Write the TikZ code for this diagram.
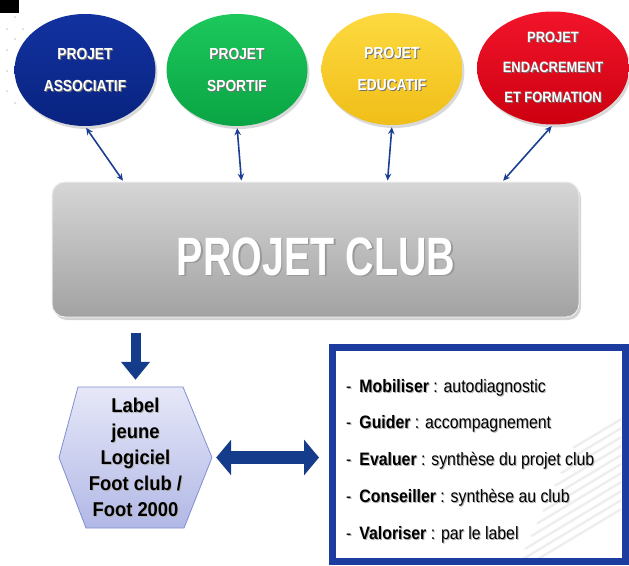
\documentclass[tikz,border=0pt]{standalone}
\usepackage{fontspec}
\setmainfont{Liberation Sans}
\newfontfamily\condA[FakeStretch=0.86]{Liberation Sans}
\newfontfamily\condB[FakeStretch=0.73]{Liberation Sans}
\newfontfamily\condC[FakeStretch=0.92]{Liberation Sans}
\newfontfamily\condD[FakeStretch=0.88]{Liberation Sans}
\usetikzlibrary{shapes.geometric,arrows.meta,shadows,calc}
\definecolor{pblueT}{HTML}{1232A0}
\definecolor{pblueB}{HTML}{08237F}
\definecolor{pgreenT}{HTML}{1CC85C}
\definecolor{pgreenB}{HTML}{0AA444}
\definecolor{pyellowT}{HTML}{FDDA40}
\definecolor{pyellowB}{HTML}{F0BE18}
\definecolor{predT}{HTML}{F2142A}
\definecolor{predB}{HTML}{CC0010}
\definecolor{linkblue}{HTML}{1B3F92}
\definecolor{navy}{HTML}{153C8A}
\definecolor{clubT}{HTML}{D6D6D6}
\definecolor{clubB}{HTML}{A2A2A2}
\definecolor{hexT}{HTML}{E6E8F8}
\definecolor{hexB}{HTML}{B2B8E6}
\definecolor{hexline}{HTML}{7F8FCF}
\definecolor{boxblue}{HTML}{1C3CA0}
\newcommand\shd[2][black!55]{\makebox[0pt][l]{\kern1pt\raisebox{-1pt}{\textcolor{#1}{#2}}}#2}
\newcommand\shdB[2][black!40]{\makebox[0pt][l]{\kern1.5pt\raisebox{-1.5pt}{\textcolor{#1}{#2}}}#2}
\begin{document}
\begin{tikzpicture}[x=1pt,y=-1pt,
  proj/.style={ellipse, minimum width=141pt, minimum height=112pt, inner sep=0pt,
    text=white, align=center,
    font=\condA\bfseries\fontsize{16}{32}\selectfont,
    drop shadow={opacity=0.3, shadow xshift=2pt, shadow yshift=-3pt}},
  link/.style={draw=linkblue, line width=1.6pt, shorten <=2pt, shorten >=1pt,
    {Stealth[length=7pt,width=6.5pt]}-{Stealth[length=7pt,width=6.5pt]}},
  dotg/.style={fill=gray!35},
]
\useasboundingbox (0,0) rectangle (629,565);
% corner decorations
\fill[black] (0,0) rectangle (19,13);
\foreach \p in {(15,17),(7,29),(23,29),(15,39),(7,50),(7,71),(7,91),(15,103)}
  \fill[dotg] \p circle (1pt);

% project ellipses
\node[proj, top color=pblueT, bottom color=pblueB] (pblue) at (85,70)
  {\shd{PROJET}\\\shd{ASSOCIATIF}};
\node[proj, top color=pgreenT, bottom color=pgreenB] (pgreen) at (237,70)
  {\shd{PROJET}\\\shd{SPORTIF}};
\node[proj, top color=pyellowT, bottom color=pyellowB] (pyellow) at (392,69)
  {\shd{PROJET}\\\shd{EDUCATIF}};
\node[proj, minimum width=152pt, minimum height=113pt, top color=predT, bottom color=predB,
  font=\condA\bfseries\fontsize{15}{30}\selectfont] (pred) at (553,68)
  {\shd{PROJET}\\\shd{ENDACREMENT}\\\shd{ET FORMATION}};

% projet club
\node[rectangle, rounded corners=13pt, minimum width=527pt, minimum height=135pt,
  top color=clubT, bottom color=clubB, draw=white!85!gray, line width=1pt,
  drop shadow={opacity=0.35, shadow xshift=2pt, shadow yshift=-3pt}] (club) at (315.5,249.5) {};
\node[text=white, font=\condB\bfseries\fontsize{54}{60}\selectfont, inner sep=0pt]
  (clubtxt) at (316,257.5) {\shdB{PROJET CLUB}};

% links
\draw[link] (pblue.south) -- ($(club.north west)+(72,0)$);
\draw[link] (pgreen.south) -- ($(club.north west)+(190,0)$);
\draw[link] (pyellow.south) -- ($(club.north west)+(336,0)$);
\draw[link] (pred.south) -- ($(club.north west)+(451,0)$);

% hexagon
\draw[hexline, line width=0.8pt, top color=hexT, bottom color=hexB]
  (78,387) -- (183,387) -- (212,457.5) -- (184,528) -- (86,528) -- (59,457.5) -- cycle;
\node[minimum width=153pt, minimum height=141pt, inner sep=0pt, align=center,
  font=\condC\bfseries\fontsize{20}{26}\selectfont] (hex) at (135.5,457.5)
  {\shd[black!30]{Label}\\\shd[black!30]{jeune}\\\shd[black!30]{Logiciel}\\\shd[black!30]{Foot club /}\\\shd[black!30]{Foot 2000}};

% right box
\node[rectangle, minimum width=293pt, minimum height=214pt, draw=boxblue, line width=7pt,
  fill=white, drop shadow={opacity=0.3, shadow xshift=2pt, shadow yshift=-3pt}] (box) at (478.5,454) {};
\begin{scope}
  \clip (336,351) rectangle (621,557);
  \foreach \i in {0,...,10}
    \draw[gray!13, line width=2.4pt] (623,{418+9*\i}) -- ++({-(50+6*\i)},{0.6*(50+6*\i)});
\end{scope}
\node[anchor=west, align=left, inner sep=0pt,
  font=\condD\fontsize{18}{36.75}\selectfont] (boxtxt) at (346,461.5)
  {\shd[black!30]{-\hspace{8pt}\textbf{Mobiliser} : autodiagnostic}\\
   \shd[black!30]{-\hspace{8pt}\textbf{Guider} : accompagnement}\\
   \shd[black!30]{-\hspace{8pt}\textbf{Evaluer} : synthèse du projet club}\\
   \shd[black!30]{-\hspace{8pt}\textbf{Conseiller} : synthèse au club}\\
   \shd[black!30]{-\hspace{8pt}\textbf{Valoriser} : par le label}};

% block arrows
\draw[navy, line width=10pt, shorten <=15pt, shorten >=7pt,
  -{Triangle[length=18pt,width=28pt]}] (hex.north |- club.south) -- (hex.north);
\draw[navy, line width=13pt, shorten <=4pt, shorten >=9.5pt,
  {Triangle[length=15pt,width=35pt]}-{Triangle[length=15pt,width=35pt]}]
  (hex.east) -- (hex.east -| box.west);
\end{tikzpicture}
\end{document}
